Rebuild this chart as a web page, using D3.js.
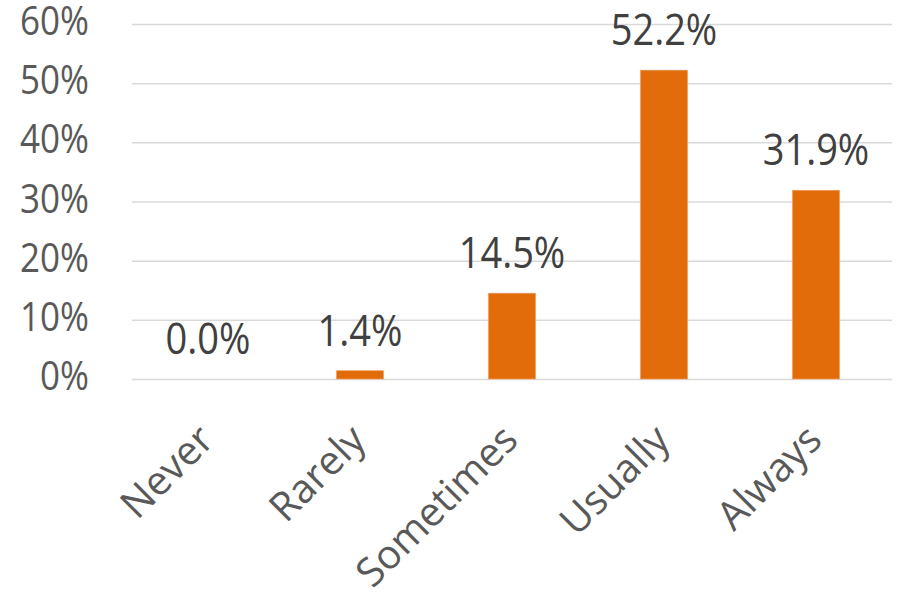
<!DOCTYPE html>
<html>
<head>
<meta charset="utf-8">
<script src="https://cdn.jsdelivr.net/npm/d3@7"></script>
<style>
    body { margin: 0; background: #fff; }
    #chart text { font-family: "Open Sans", sans-serif; }
</style>
</head>
<body>
<div id="chart"></div>
<script>

// chart data
let categories = ["Never", "Rarely", "Sometimes", "Usually", "Always"];
let values = [0.0, 1.4, 14.5, 52.2, 31.9];
let yTicks = [0, 10, 20, 30, 40, 50, 60];

// define margin
let margin = {top: 24, right: 5, bottom: 216, left: 132};
let width = 897 - margin.left - margin.right;
let height = 595 - margin.top - margin.bottom;

// text in the original is a bit taller than wide
let stretch = 1.13;

let svg = d3.select("#chart").append("svg")
    .attr("width", 897)
    .attr("height", 595)
    .append("g")
    .attr("transform", "translate(" + margin.left + "," + margin.top + ")");

// scales
let x = d3.scaleBand()
    .domain(categories)
    .range([0, width])
    .paddingInner(0.69)
    .paddingOuter(0.345);

let y = d3.scaleLinear()
    .domain([0, 60])
    .range([height, 0]);

// gridlines
let yG = svg.append("g").call(d3.axisLeft(y)
    .tickValues(yTicks)
    .tickSize(-width)
    .tickFormat(""));
yG.select(".domain").remove();
yG.selectAll("line")
    .attr("stroke", "#d9d9d9")
    .attr("stroke-width", 1.5);

// y labels
svg.selectAll(".ylab")
    .data(yTicks)
    .enter()
    .append("text")
    .attr("class", "ylab")
    .attr("transform", d => "translate(-43," + (y(d) + 11) + ") scale(1," + stretch + ")")
    .attr("text-anchor", "end")
    .attr("fill", "#595959")
    .style("font-size", "35px")
    .text(d => d + "%");

// bars
svg.selectAll(".bar")
    .data(values)
    .enter()
    .append("rect")
    .attr("class", "bar")
    .attr("x", (d, i) => x(categories[i]))
    .attr("y", d => y(d))
    .attr("width", x.bandwidth())
    .attr("height", d => height - y(d))
    .attr("fill", "#e36c0a")
    .attr("stroke", "#f0a060")
    .attr("stroke-width", 0.6);

// data labels
svg.selectAll(".label")
    .data(values)
    .enter()
    .append("text")
    .attr("class", "label")
    .attr("transform", (d, i) => "translate(" + (x(categories[i]) + x.bandwidth() / 2) + "," + (y(d) - 25) + ") scale(1," + stretch + ")")
    .attr("text-anchor", "middle")
    .attr("fill", "#404040")
    .style("font-size", "38px")
    .text(d => d.toFixed(1) + "%");

// x axis labels, rotated
let xG = svg.append("g")
    .attr("transform", "translate(0," + height + ")")
    .call(d3.axisBottom(x).tickSize(0).tickPadding(0));
xG.select(".domain").remove();
xG.selectAll("text")
    .attr("text-anchor", "end")
    .attr("fill", "#595959")
    .style("font-size", "40px")
    .attr("dy", "0")
    .attr("transform", "translate(8,63) rotate(-45)");

</script>
</body>
</html>
